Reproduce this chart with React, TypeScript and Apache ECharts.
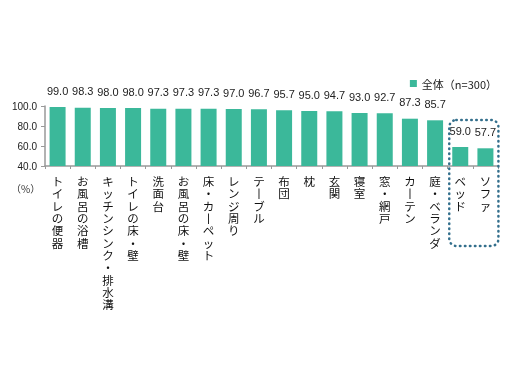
import React, { useEffect, useRef } from "react";
import * as echarts from "echarts";

const categories = [
  "トイレの便器",
  "お風呂の浴槽",
  "キッチンシンク・排水溝",
  "トイレの床・壁",
  "洗面台",
  "お風呂の床・壁",
  "床・カーペット",
  "レンジ周り",
  "テーブル",
  "布団",
  "枕",
  "玄関",
  "寝室",
  "窓・網戸",
  "カーテン",
  "庭・ベランダ",
  "ベッド",
  "ソファ",
];
const values = [99.0, 98.3, 98.0, 98.0, 97.3, 97.3, 97.3, 97.0, 96.7, 95.7, 95.0, 94.7, 93.0, 92.7, 87.3, 85.7, 59.0, 57.7];
const seriesName = "全体（n=300）";
const yTicks = [40, 60, 80, 100];

const FONT = "'Liberation Sans', 'Noto Sans CJK JP', sans-serif";
const JP = "'Noto Sans CJK JP', sans-serif";

const vertical = (s: string) =>
  s
    .split("")
    .map((c) => (c === "ー" ? "丨" : c))
    .join("\n");

export default function App() {
  const ref = useRef<HTMLDivElement>(null);
  useEffect(() => {
    if (!ref.current) return;
    const chart = echarts.init(ref.current, undefined, { renderer: "svg" });
    const pctText = {
      type: "text",
      left: 11,
      top: 183,
      style: { text: "（%）", fontSize: 10, fontFamily: JP, fill: "#333" },
    };
    chart.setOption({
      animation: false,
      grid: { left: 45, right: 14, top: 106, bottom: 218, containLabel: false },
      legend: {
        data: [seriesName],
        right: 10,
        top: 73,
        icon: "rect",
        itemWidth: 7,
        itemHeight: 7,
        itemGap: 3,
        textStyle: { fontSize: 11, fontFamily: JP, color: "#222" },
      },
      xAxis: {
        type: "category",
        data: categories,
        axisLine: { lineStyle: { color: "#999", width: 1.5 } },
        axisTick: { show: true, length: 3, lineStyle: { color: "#999" } },
        axisLabel: {
          interval: 0,
          margin: 9,
          fontSize: 11.5,
          lineHeight: 12.3,
          fontFamily: JP,
          color: "#111",
          formatter: (v: string) => vertical(v),
        },
      },
      yAxis: {
        type: "value",
        min: yTicks[0],
        max: yTicks[yTicks.length - 1],
        interval: 20,
        axisLine: { show: true, lineStyle: { color: "#999", width: 1.5 } },
        axisTick: { show: true, length: 4, lineStyle: { color: "#999" } },
        splitLine: { show: false },
        axisLabel: {
          margin: 8,
          fontSize: 10,
          fontFamily: FONT,
          color: "#222",
          formatter: (v: number) => v.toFixed(1),
        },
      },
      series: [
        {
          name: seriesName,
          type: "bar",
          data: values,
          barWidth: 16,
          itemStyle: { color: "#3bb89a" },
          label: {
            show: true,
            position: "top",
            distance: 11,
            fontSize: 11,
            fontFamily: FONT,
            color: "#222",
            formatter: (p: any) => Number(p.value).toFixed(1),
          },
        },
      ],
      graphic: [pctText],
    });
    const n = categories.length;
    const c1 = chart.convertToPixel({ xAxisIndex: 0 }, n - 2) as number;
    const c2 = chart.convertToPixel({ xAxisIndex: 0 }, n - 1) as number;
    const yTop = chart.convertToPixel({ yAxisIndex: 0 }, 86) as number;
    const x0 = c1 - 11;
    const x1 = c2 + 13;
    chart.setOption({
      graphic: [
        pctText,
        {
          type: "rect",
          shape: { x: x0, y: yTop, width: x1 - x0, height: 246 - yTop, r: 7 },
          style: {
            fill: "none",
            stroke: "#336f8c",
            lineWidth: 2.5,
            lineDash: [0.5, 4.5],
            lineCap: "round",
          },
          z: 10,
        },
      ],
    });
    return () => chart.dispose();
  }, []);
  return (
    <div
      ref={ref}
      style={{ position: "fixed", left: 0, top: 0, width: 512, height: 384 }}
    />
  );
}
